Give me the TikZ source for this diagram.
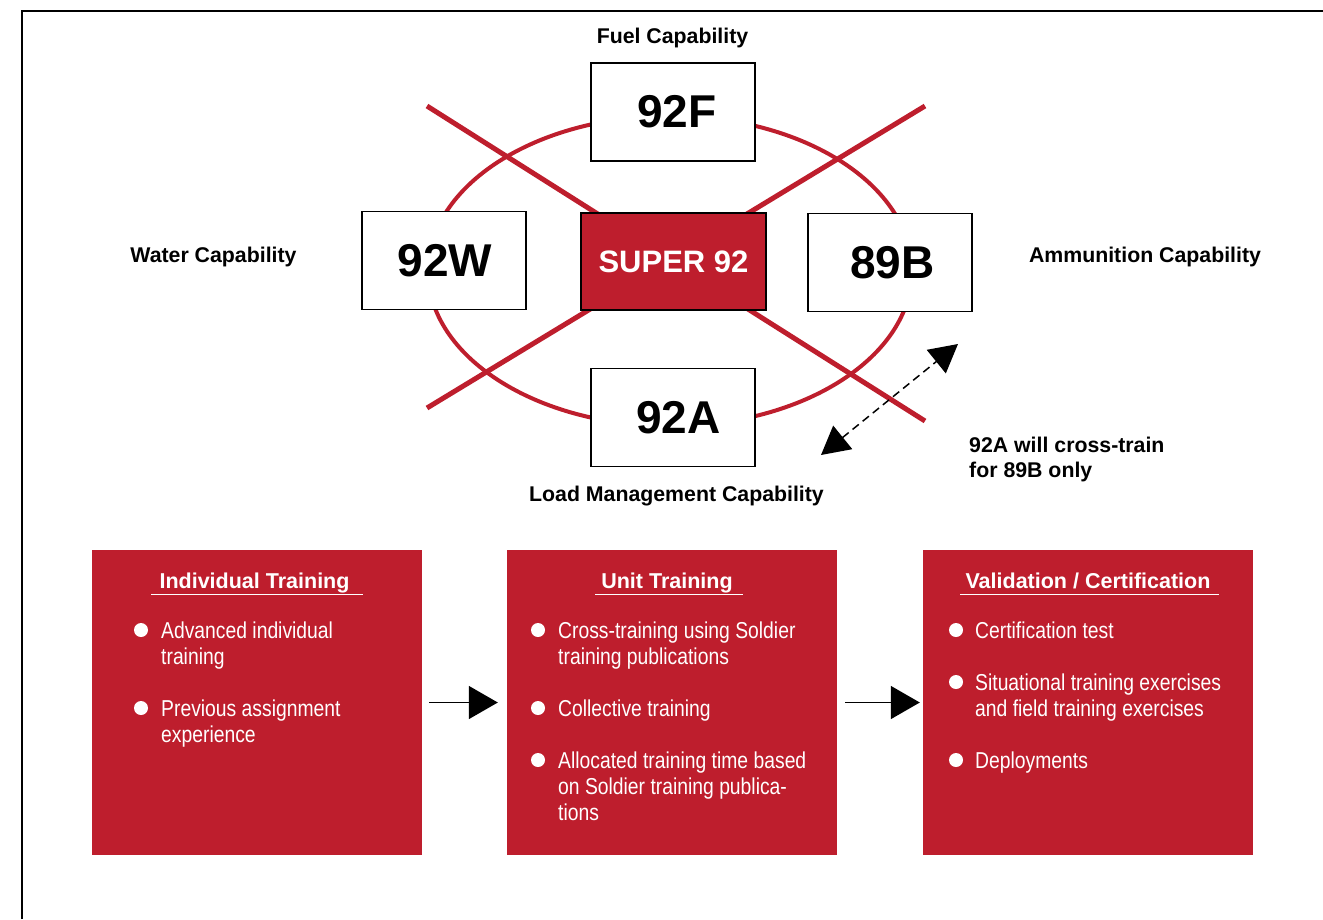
\documentclass[tikz,border=0pt]{standalone}
\usepackage{fontspec}
\setmainfont{Liberation Sans}
\newfontfamily\condfont[FakeStretch=0.84]{Liberation Sans}
\usetikzlibrary{arrows.meta,calc}
\definecolor{armyred}{RGB}{190,30,45}
\begin{document}
\begin{tikzpicture}[x=1pt,y=-1pt,
  capbox/.style={draw=black, line width=1.5pt, fill=white, minimum width=164pt, minimum height=98pt, inner sep=0pt, font=\fontsize{46}{50}\selectfont\bfseries},
  superbox/.style={capbox, fill=armyred, text=white, minimum width=185pt, minimum height=97pt, font=\fontsize{31}{36}\selectfont\bfseries},
  caplabel/.style={font=\fontsize{21.3}{26}\selectfont\bfseries, inner sep=0pt, anchor=base},
  notelabel/.style={caplabel, anchor=base west},
  redline/.style={draw=armyred, line width=5pt},
  trainbox/.style={fill=armyred, minimum width=330pt, minimum height=305pt, inner sep=0pt},
  header/.style={font=\fontsize{21.5}{26}\selectfont\bfseries, text=white, inner sep=0pt, anchor=base},
  underl/.style={draw=white, line width=1.5pt},
  bodyline/.style={font=\condfont\fontsize{23}{26}\selectfont, text=white, inner sep=0pt, anchor=base west},
  bulletdot/.style={fill=white},
  flow/.style={-{Triangle[length=29pt,width=33pt]}, line width=1.5pt, draw=black},
  crossarrow/.style={{Triangle[length=28pt,width=30pt]}-{Triangle[length=28pt,width=30pt]}, line width=1.5pt, dash pattern=on 8pt off 5pt}
]
\useasboundingbox (0,0) rectangle (1323,919);
% frame
\coordinate (fbl) at (22,919);
\coordinate (ftl) at (22,11);
\coordinate (ftr) at (1323,11);
\draw[line width=2pt] (fbl) -- (ftl) -- (ftr);

% ellipse and cross
\coordinate (ellc) at (670,271);
\draw[draw=armyred, line width=4pt] (ellc) ellipse [x radius=242, y radius=155];
\coordinate (x1a) at (427,106);
\coordinate (x1b) at (925,421);
\coordinate (x2a) at (427,408);
\coordinate (x2b) at (925,106);
\draw[redline] (x1a) -- (x1b);
\draw[redline] (x2a) -- (x2b);

% boxes
\node[capbox] (f) at (673,112) {\hspace*{8pt}92F};
\node[capbox] (w) at (444,260.5) {\hspace*{2pt}92W};
\node[superbox] (s) at (673.5,261.5) {SUPER 92};
\node[capbox] (b) at (890,262.5) {\hspace*{5pt}89B};
\node[capbox] (a) at (673,417.5) {\hspace*{11pt}92A};

% capability labels
\node[caplabel] (lf) at (672.5,43) {Fuel Capability};
\node[caplabel] (lw) at (213.5,262) {Water Capability};
\node[caplabel] (lb) at (1145,262) {Ammunition Capability};
\node[caplabel] (la) at (676.5,501) {Load Management Capability};

% cross-train note
\coordinate (ca) at (821,455);
\coordinate (cb) at (958,344);
\draw[crossarrow] (ca) -- (cb);
\node[notelabel] (n1) at (969,452) {92A will cross-train};
\node[notelabel] (n2) at (969,477) {for 89B only};

% training boxes
\node[trainbox] (t1) at (257,702.5) {};
\node[trainbox] (t2) at (672,702.5) {};
\node[trainbox] (t3) at (1088,702.5) {};
\draw[flow, shorten <=7pt, shorten >=9pt] (t1) -- (t2);
\draw[flow, shorten <=8pt, shorten >=3pt] (t2) -- (t3);

% headers
\node[header] (h1) at (254.5,588) {Individual Training};
\node[header] (h2) at (667,588) {Unit Training};
\node[header] (h3) at (1088,588) {Validation / Certification};
\draw[underl] ($(h1.base west)+(-8,6.5)$) -- ($(h1.base east)+(13,6.5)$);
\draw[underl] ($(h2.base west)+(-6,6.5)$) -- ($(h2.base east)+(10,6.5)$);
\draw[underl] ($(h3.base west)+(-5,6.5)$) -- ($(h3.base east)+(8,6.5)$);

% box 1 bullets
\fill[bulletdot] (141,630) circle (7);
\fill[bulletdot] (141,708) circle (7);
\node[bodyline] (b1a) at (161,638) {Advanced individual};
\node[bodyline] (b1b) at (161,664) {training};
\node[bodyline] (b1c) at (161,716) {Previous assignment};
\node[bodyline] (b1d) at (161,742) {experience};

% box 2 bullets
\fill[bulletdot] (538,630) circle (7);
\fill[bulletdot] (538,708) circle (7);
\fill[bulletdot] (538,760) circle (7);
\node[bodyline] (b2a) at (558,638) {Cross-training using Soldier};
\node[bodyline] (b2b) at (558,664) {training publications};
\node[bodyline] (b2c) at (558,716) {Collective training};
\node[bodyline] (b2d) at (558,768) {Allocated training time based};
\node[bodyline] (b2e) at (558,794) {on Soldier training publica-};
\node[bodyline] (b2f) at (558,820) {tions};

% box 3 bullets
\fill[bulletdot] (956,630) circle (7);
\fill[bulletdot] (956,682) circle (7);
\fill[bulletdot] (956,760) circle (7);
\node[bodyline] (b3a) at (975,638) {Certification test};
\node[bodyline] (b3b) at (975,690) {Situational training exercises};
\node[bodyline] (b3c) at (975,716) {and field training exercises};
\node[bodyline] (b3d) at (975,768) {Deployments};
\end{tikzpicture}
\end{document}
